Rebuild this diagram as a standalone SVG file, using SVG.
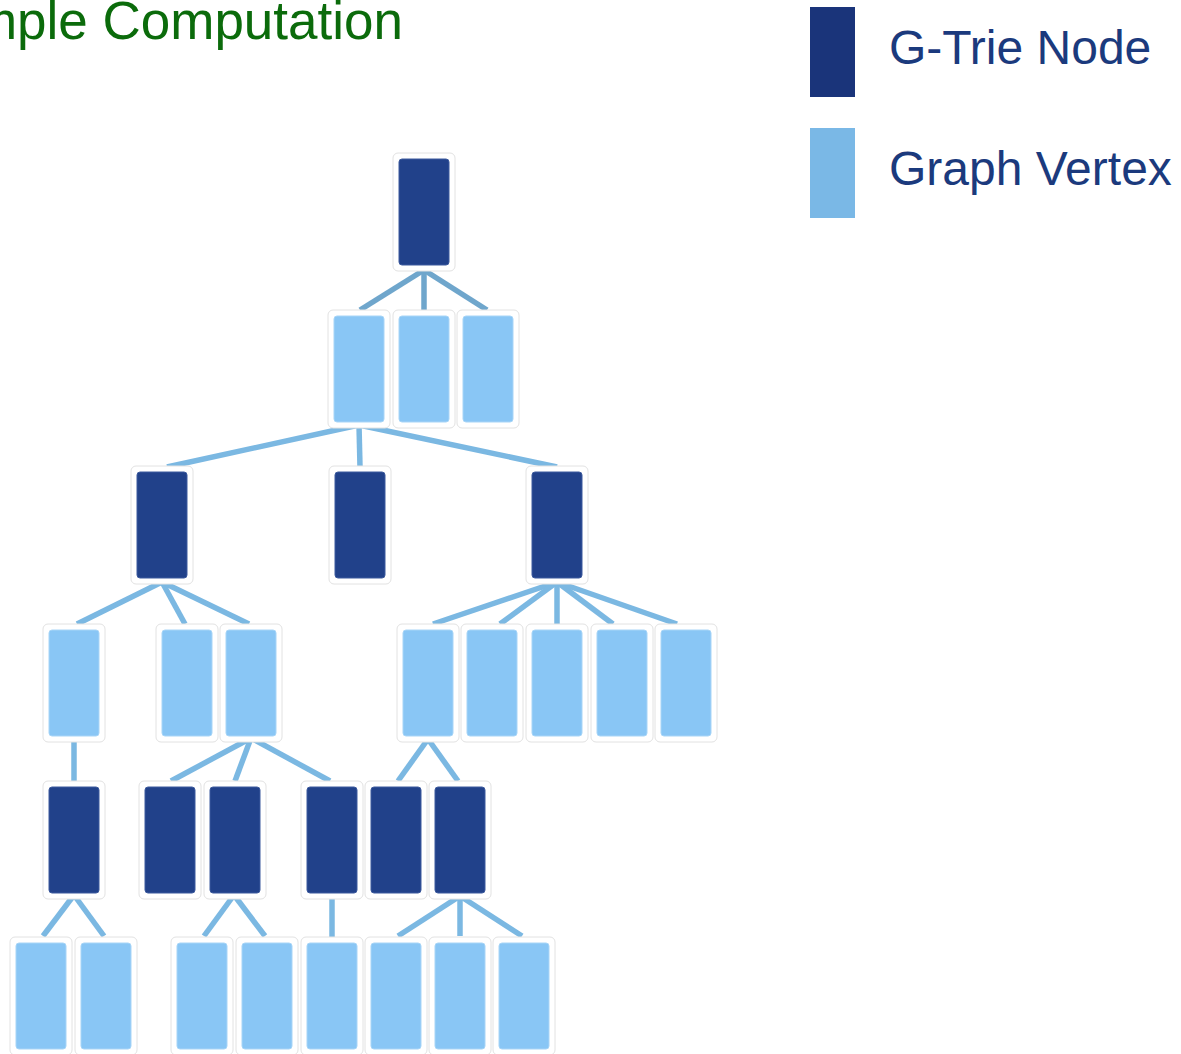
<svg xmlns="http://www.w3.org/2000/svg" width="1181" height="1054" viewBox="0 0 1181 1054">
<defs>
<style>
.frame{fill:#ffffff;stroke:#e2e2e2;stroke-width:1}
.gt{fill:#21418a;stroke:#3d5b9e;stroke-width:1}
.gv{fill:#89c6f5;stroke:#a8d5f7;stroke-width:1}
.ln{stroke:#7bb8e2;stroke-width:5.5;fill:none}
.ln0{stroke:#6fa6cc;stroke-width:5.5;fill:none}
.title{font-family:"Liberation Sans",Arial,sans-serif;font-size:53px;fill:#0b6b0b}
.leg{font-family:"Liberation Sans",Arial,sans-serif;font-size:48px;fill:#1b3a7d}
</style>
<g id="gtn"><rect class="frame" x="-6" y="-6" width="62" height="118" rx="5"/><rect class="gt" x="0" y="0" width="50" height="106" rx="3"/></g>
<g id="gvx"><rect class="frame" x="-6" y="-6" width="62" height="118" rx="5"/><rect class="gv" x="0" y="0" width="50" height="106" rx="3"/></g>
</defs>
<rect width="1181" height="1054" fill="#ffffff"/>
<text id="title" class="title" x="403" y="39" text-anchor="end">Example Computation</text>
<g id="legend">
<rect x="810" y="7" width="45" height="90" fill="#1a347a"/>
<text class="leg" x="889" y="64">G-Trie Node</text>
<rect x="810" y="128" width="45" height="90" fill="#7ab8e6"/>
<text class="leg" x="889" y="185">Graph Vertex</text>
</g>
<g id="connectors">
<line class="ln0" x1="424" y1="270" x2="360" y2="310"/>
<line class="ln0" x1="424" y1="270" x2="424" y2="310"/>
<line class="ln0" x1="424" y1="270" x2="487" y2="310"/>
<line class="ln" x1="359" y1="425" x2="167" y2="467"/>
<line class="ln" x1="359" y1="425" x2="360" y2="467"/>
<line class="ln" x1="359" y1="425" x2="557" y2="467"/>
<line class="ln" x1="162" y1="582" x2="77" y2="624"/>
<line class="ln" x1="162" y1="582" x2="185" y2="624"/>
<line class="ln" x1="162" y1="582" x2="249" y2="624"/>
<line class="ln" x1="557" y1="582" x2="433" y2="624"/>
<line class="ln" x1="557" y1="582" x2="500" y2="624"/>
<line class="ln" x1="557" y1="582" x2="557" y2="624"/>
<line class="ln" x1="557" y1="582" x2="613" y2="624"/>
<line class="ln" x1="557" y1="582" x2="677" y2="624"/>
<line class="ln" x1="74" y1="739" x2="74" y2="781"/>
<line class="ln" x1="251" y1="738" x2="171" y2="781"/>
<line class="ln" x1="251" y1="738" x2="235" y2="781"/>
<line class="ln" x1="251" y1="738" x2="330" y2="781"/>
<line class="ln" x1="428" y1="739" x2="398" y2="781"/>
<line class="ln" x1="428" y1="739" x2="458" y2="781"/>
<line class="ln" x1="74" y1="895" x2="43" y2="936"/>
<line class="ln" x1="74" y1="895" x2="104" y2="936"/>
<line class="ln" x1="234" y1="895" x2="204" y2="936"/>
<line class="ln" x1="234" y1="895" x2="265" y2="936"/>
<line class="ln" x1="332" y1="896" x2="332" y2="937"/>
<line class="ln" x1="460" y1="896" x2="398" y2="936"/>
<line class="ln" x1="460" y1="896" x2="460" y2="936"/>
<line class="ln" x1="460" y1="896" x2="522" y2="936"/>
</g>
<g id="root"><use href="#gtn" x="399" y="159"/></g>
<g id="r1a"><use href="#gvx" x="334" y="316"/></g>
<g id="r1b"><use href="#gvx" x="399" y="316"/></g>
<g id="r1c"><use href="#gvx" x="463" y="316"/></g>
<g id="r2a"><use href="#gtn" x="137" y="472"/></g>
<g id="r2b"><use href="#gtn" x="335" y="472"/></g>
<g id="r2c"><use href="#gtn" x="532" y="472"/></g>
<g id="r3a"><use href="#gvx" x="49" y="630"/></g>
<g id="r3b"><use href="#gvx" x="162" y="630"/></g>
<g id="r3c"><use href="#gvx" x="226" y="630"/></g>
<g id="r3d"><use href="#gvx" x="403" y="630"/></g>
<g id="r3e"><use href="#gvx" x="467" y="630"/></g>
<g id="r3f"><use href="#gvx" x="532" y="630"/></g>
<g id="r3g"><use href="#gvx" x="597" y="630"/></g>
<g id="r3h"><use href="#gvx" x="661" y="630"/></g>
<g id="r4a"><use href="#gtn" x="49" y="787"/></g>
<g id="r4b"><use href="#gtn" x="145" y="787"/></g>
<g id="r4c"><use href="#gtn" x="210" y="787"/></g>
<g id="r4d"><use href="#gtn" x="307" y="787"/></g>
<g id="r4e"><use href="#gtn" x="371" y="787"/></g>
<g id="r4f"><use href="#gtn" x="435" y="787"/></g>
<g id="r5a"><use href="#gvx" x="16" y="943"/></g>
<g id="r5b"><use href="#gvx" x="81" y="943"/></g>
<g id="r5c"><use href="#gvx" x="177" y="943"/></g>
<g id="r5d"><use href="#gvx" x="242" y="943"/></g>
<g id="r5e"><use href="#gvx" x="307" y="943"/></g>
<g id="r5f"><use href="#gvx" x="371" y="943"/></g>
<g id="r5g"><use href="#gvx" x="435" y="943"/></g>
<g id="r5h"><use href="#gvx" x="499" y="943"/></g>
</svg>
